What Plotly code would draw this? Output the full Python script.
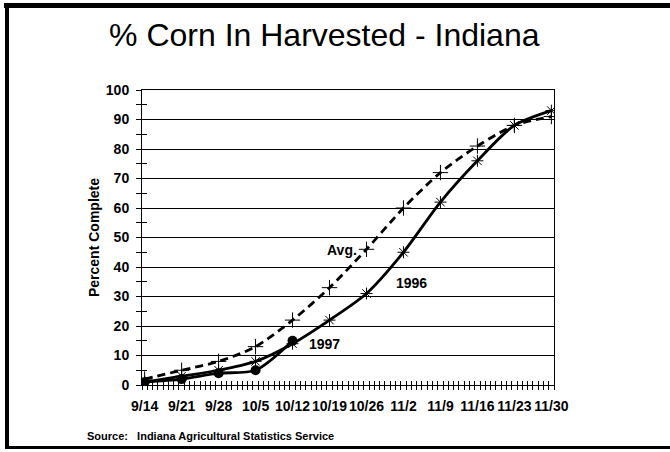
import plotly.graph_objects as go

# Weekly dates (day index from 9/14)
tick_labels = ["9/14", "9/21", "9/28", "10/5", "10/12", "10/19", "10/26",
               "11/2", "11/9", "11/16", "11/23", "11/30"]
week_days = [0, 7, 14, 21, 28, 35, 42, 49, 56, 63, 70, 77]

avg_values = [2, 5, 8, 13, 22, 33, 46, 60, 72, 81, 88, 91]
y1996_values = [1, 3, 5, 8, 14, 22, 31, 45, 62, 76, 88, 93]
y1997_values = [1, 2, 4, 5, 15]

n_days = 78

fig = go.Figure()

fig.add_trace(go.Scatter(
    x=week_days, y=avg_values, mode="lines+markers",
    line=dict(color="black", width=2.8, dash="8px,5px", shape="spline", smoothing=0.8),
    marker=dict(symbol="cross-thin-open", size=11, color="black", line=dict(width=1, color="black")),
    showlegend=False))
fig.add_trace(go.Scatter(
    x=week_days, y=y1996_values, mode="lines+markers",
    line=dict(color="black", width=2.8, shape="spline", smoothing=0.8),
    marker=dict(symbol="asterisk-open", size=10, color="black", line=dict(width=1, color="black")),
    showlegend=False))
fig.add_trace(go.Scatter(
    x=week_days[:len(y1997_values)], y=y1997_values, mode="lines+markers",
    line=dict(color="black", width=2.8, shape="spline", smoothing=0.8),
    marker=dict(symbol="circle", size=10, color="black"),
    showlegend=False))

xr = [-0.5, n_days - 0.5]
bold = "Liberation Sans"

fig.update_layout(
    width=670, height=452,
    margin=dict(l=142, r=116, t=90, b=67),
    paper_bgcolor="white", plot_bgcolor="white",
    font=dict(family=bold, color="black"),
    xaxis=dict(range=xr, tickmode="array", tickvals=week_days, ticktext=tick_labels,
               ticks="", tickangle=0, showgrid=False, zeroline=False, showline=True,
               linecolor="black", linewidth=1, mirror=True, ticklabelstandoff=8,
               tickfont=dict(family=bold, size=14, weight="bold")),
    xaxis2=dict(range=xr, overlaying="x", anchor="y", side="bottom", tickmode="linear",
                tick0=-0.5, dtick=1, ticks="outside", ticklen=4, tickcolor="black",
                showticklabels=False, showgrid=False, zeroline=False, showline=False),
    xaxis3=dict(range=xr, overlaying="x", anchor="y", side="bottom", tickmode="linear",
                tick0=-0.5, dtick=1, ticks="inside", ticklen=4, tickcolor="black",
                showticklabels=False, showgrid=False, zeroline=False, showline=False),
    yaxis=dict(range=[0, 100], tickmode="linear", tick0=0, dtick=10, ticks="outside",
               ticklen=5, tickcolor="black", showgrid=True, gridcolor="black", gridwidth=1,
               zeroline=False, showline=True, linecolor="black", linewidth=1, mirror=True,
               ticklabelstandoff=4,
               tickfont=dict(family=bold, size=14, weight="bold"),
               title=dict(text="Percent Complete", standoff=2,
                          font=dict(family=bold, size=14, weight="bold"))),
    yaxis2=dict(range=[0, 100], overlaying="y", anchor="x", side="left", tickmode="linear",
                tick0=0, dtick=5, ticks="inside", ticklen=5, tickcolor="black",
                showticklabels=False, showgrid=False, zeroline=False, showline=False),
    yaxis3=dict(range=[0, 100], overlaying="y", anchor="x", side="left", tickmode="linear",
                tick0=5, dtick=10, ticks="outside", ticklen=5, tickcolor="black",
                showticklabels=False, showgrid=False, zeroline=False, showline=False),
    title=dict(text="% Corn In Harvested - Indiana", x=0.484, xanchor="center",
               y=0.923, yanchor="middle", font=dict(family=bold, size=32)),
)

# invisible traces to activate overlay axes
for xa, ya in [("x2", "y2"), ("x3", "y3")]:
    fig.add_trace(go.Scatter(x=[0], y=[0], xaxis=xa, yaxis=ya, mode="markers",
                             marker=dict(opacity=0), showlegend=False, hoverinfo="skip"))

ann_font = dict(family=bold, size=14, weight="bold", color="black")
fig.add_annotation(x=37.4, y=45.8, text="Avg.", showarrow=False, font=ann_font)
fig.add_annotation(x=50.6, y=34.6, text="1996", showarrow=False, font=ann_font)
fig.add_annotation(x=34.1, y=13.9, text="1997", showarrow=False, font=ann_font)
fig.add_annotation(xref="paper", yref="paper", x=(85 - 142) / 412, y=(385 - 436) / 295,
                   xanchor="left", yanchor="middle", showarrow=False,
                   text="Source:   Indiana Agricultural Statistics Service",
                   font=dict(family=bold, size=11, weight="bold", color="black"))

# frame bars (decoration)
def px_x(p):
    return (p - 142) / 412

def px_y(p):
    return (385 - p) / 295

fig.add_shape(type="rect", xref="paper", yref="paper", x0=px_x(4), x1=px_x(700),
              y0=px_y(8), y1=px_y(3), fillcolor="black", line=dict(width=0))
fig.add_shape(type="rect", xref="paper", yref="paper", x0=px_x(5), x1=px_x(9),
              y0=px_y(449), y1=px_y(3), fillcolor="black", line=dict(width=0))
fig.add_shape(type="rect", xref="paper", yref="paper", x0=px_x(5), x1=px_x(700),
              y0=px_y(449), y1=px_y(446), fillcolor="black", line=dict(width=0))

fig.write_html("out.html", config={"displayModeBar": False},
               post_script="document.body.style.margin='0';document.body.style.overflow='hidden';")
